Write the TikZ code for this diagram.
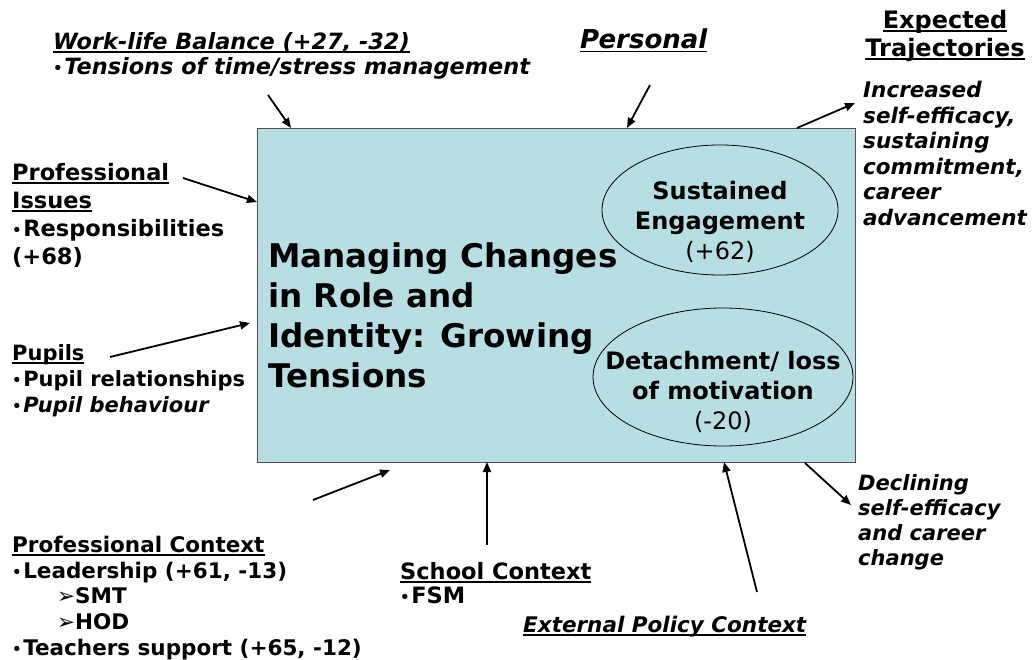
\documentclass[tikz,border=0pt]{standalone}
\usepackage{fontspec}
\setmainfont{DejaVu Sans}
\usetikzlibrary{arrows.meta,shapes.geometric}
\definecolor{boxfill}{RGB}{183,222,226}
\definecolor{boxline}{RGB}{80,80,80}
\newcommand{\ulx}[1]{\setbox0\hbox{#1}\rlap{\rule[-3.5pt]{\wd0}{1.6pt}}\box0}
\newcommand{\bul}{{\fontsize{15}{15}\selectfont\raisebox{1pt}{•}}\hspace{1.5pt}}
\tikzset{
  txt/.style={anchor=north west, inner sep=0pt, align=left, font=\bfseries\fontsize{21}{26}\selectfont},
  arr/.style={-{Triangle[length=10pt,width=8pt]}, line width=1.8pt},
  oval/.style={ellipse, draw, line width=0.8pt, inner sep=0pt},
  inoval/.style={inner sep=0pt, align=center, font=\bfseries\fontsize{24}{30}\selectfont}
}
\begin{document}
\begin{tikzpicture}[x=1pt,y=-1pt]
\useasboundingbox (0,0) rectangle (1033,660);
% main box
\node[draw=boxline, fill=boxfill, line width=1.2pt, anchor=north west, inner sep=0pt,
      minimum width=598pt, minimum height=334pt] (box) at (257,128) {};
\node[oval, minimum width=236pt, minimum height=130pt] (e1) at (720,210) {};
\node[oval, minimum width=260pt, minimum height=138pt] (e2) at (723,377) {};
\node[inoval] (t1) at (720,222) {Sustained\\Engagement\\{\mdseries(+62)}};
\node[inoval] (t2) at (723,392) {Detachment/ loss\\of motivation\\{\mdseries(-20)}};
\node[txt, font=\bfseries\fontsize{32.6}{40}\selectfont] (title) at (268,243)
  {Managing Changes\\in Role and\\Identity: Growing\\Tensions};
% surrounding texts
\node[txt, font=\bfseries\itshape\fontsize{22.4}{25}\selectfont] (wl) at (53,32)
  {\ulx{Work-life Balance (+27, -32)}\\\bul Tensions of time/stress management};
\node[txt, font=\bfseries\itshape\fontsize{26}{30}\selectfont] (pers) at (580,29) {\ulx{Personal}};
\node[txt, align=center, anchor=north, font=\bfseries\fontsize{24}{28}\selectfont] (exp) at (945,10)
  {\ulx{Expected}\\\ulx{Trajectories}};
\node[txt, font=\bfseries\itshape\fontsize{21.5}{25.5}\selectfont] (inc) at (863,81)
  {Increased\\self-efficacy,\\sustaining\\commitment,\\career\\advancement};
\node[txt, font=\bfseries\fontsize{22.5}{28}\selectfont] (pi) at (12,163)
  {\ulx{Professional}\\\ulx{Issues}\\\bul Responsibilities\\(+68)};
\node[txt] (pup) at (12,344)
  {\ulx{Pupils}\\\bul Pupil relationships\\\bul\textit{Pupil behaviour}};
\node[txt, font=\bfseries\fontsize{21.5}{25.7}\selectfont] (pc) at (12,536)
  {\ulx{Professional Context}\\\bul Leadership (+61, -13)\\\hspace*{45pt}➢SMT\\\hspace*{45pt}➢HOD\\\bul Teachers support (+65, -12)};
\node[txt, font=\bfseries\fontsize{22.5}{24}\selectfont] (sc) at (400,562) {\ulx{School Context}\\\bul FSM};
\node[txt, font=\bfseries\itshape\fontsize{21.5}{25}\selectfont] (ep) at (523,616) {\ulx{External Policy Context}};
\node[txt, font=\bfseries\itshape\fontsize{21}{25}\selectfont] (dec) at (858,474)
  {Declining\\self-efficacy\\and career\\change};
% arrow end points
\coordinate (a1s) at (268,95);  \coordinate (a1e) at (291,128);
\coordinate (a2s) at (650,85);  \coordinate (a2e) at (627,128);
\coordinate (a3s) at (797,128); \coordinate (a3e) at (855,103);
\coordinate (a4s) at (183,178); \coordinate (a4e) at (257,202);
\coordinate (a5s) at (110,357); \coordinate (a5e) at (250,323);
\coordinate (a6s) at (313,500); \coordinate (a6e) at (390,470);
\coordinate (a7s) at (487,545); \coordinate (a7e) at (487,462);
\coordinate (a8s) at (757,592); \coordinate (a8e) at (724,462);
\coordinate (a9s) at (805,463); \coordinate (a9e) at (851,505);
\foreach \i in {1,...,9} {\draw[arr] (a\i s) -- (a\i e);}
\end{tikzpicture}
\end{document}
